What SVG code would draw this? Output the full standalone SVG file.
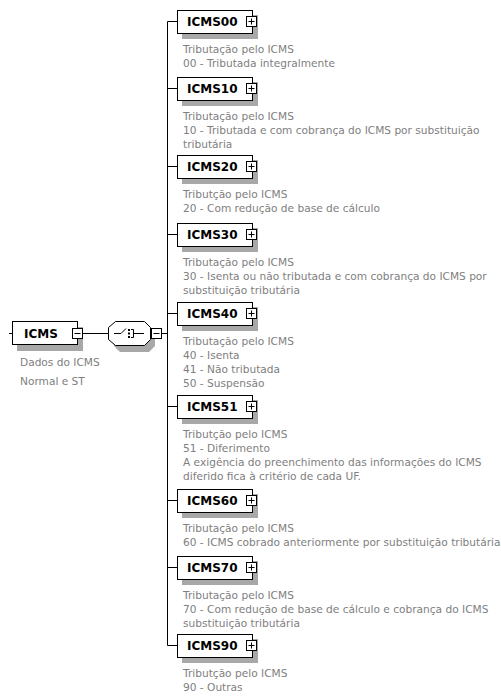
<svg xmlns="http://www.w3.org/2000/svg" width="501" height="699" viewBox="0 0 501 699">
<style>
.bg{fill:#ffffff}
.box{fill:#ffffff;stroke:#000000;stroke-width:1}
.sh{fill:#a8a8a8}
.lbl{font-family:"DejaVu Sans",Verdana,sans-serif;font-weight:bold;font-size:12px;fill:#000000}
.desc{font-family:"DejaVu Sans",Verdana,sans-serif;font-size:10.6px;fill:#808080}
.ln{stroke:#000000;stroke-width:1;fill:none}
.pm{fill:#ffffff;stroke:#000000;stroke-width:1}
</style>
<defs>
<g id="plus"><rect class="pm" x="0.5" y="0.5" width="10" height="10"/><path class="ln" d="M2.5 5.5H8.5M5.5 2.5V8.5"/></g>
<g id="node"><rect class="sh" x="182" y="5" width="76" height="24"/><rect class="box" x="177.5" y="0.5" width="75" height="23"/><use href="#plus" x="246" y="6"/></g>
</defs>
<rect class="bg" x="0" y="0" width="501" height="699"/>
<g id="connectors">
<path class="ln" d="M9 333.5H12.5"/>
<path class="ln" d="M83 333.5H108.5"/>
<path class="ln" d="M161.5 333.5H167.5"/>
<path class="ln" d="M167.5 21.5V645.5"/>
<path class="ln" d="M167.5 21.5H177.5M167.5 88.5H177.5M167.5 166.5H177.5M167.5 234.5H177.5M167.5 313.5H177.5M167.5 406.5H177.5M167.5 500.5H177.5M167.5 567.5H177.5M167.5 645.5H177.5"/>
</g>
<g id="ICMS">
<rect class="sh" x="17" y="327" width="66" height="24"/>
<rect class="box" x="12.5" y="321.5" width="65" height="23"/>
<text class="lbl" x="24" y="338">ICMS</text>
<rect class="pm" x="72.5" y="328.5" width="10" height="10"/>
<path class="ln" d="M74.5 333.5H80.5"/>
<text class="desc" x="20" y="366">Dados do ICMS</text>
<text class="desc" x="20" y="385">Normal e ST</text>
</g>
<g id="choice">
<path class="sh" d="M120 326H149L155 332V346L149 352H120L114 346V332Z"/>
<path class="box" d="M115.5 321.5H144.5L150.5 327.5V339.5L144.5 345.5H115.5L108.5 339.5V327.5Z"/>
<path class="ln" d="M114 333.5H121L126 328.5"/>
<rect x="128" y="329" width="2" height="2" fill="#000"/>
<rect x="128" y="332.5" width="2" height="2" fill="#000"/>
<rect x="128" y="336" width="2" height="2" fill="#000"/>
<path class="ln" d="M131 329.5H133.5V337.5H131M133.5 333.5H144"/>
<rect class="pm" x="151.5" y="328.5" width="10" height="10"/>
<path class="ln" d="M153.5 333.5H159.5"/>
</g>
<g id="ICMS00">
<use href="#node" y="10"/>
<text class="lbl" x="187" y="26">ICMS00</text>
<text class="desc" x="183" y="53">Tributação pelo ICMS</text>
<text class="desc" x="183" y="67">00 - Tributada integralmente</text>
</g>
<g id="ICMS10">
<use href="#node" y="77"/>
<text class="lbl" x="187" y="93">ICMS10</text>
<text class="desc" x="183" y="120">Tributação pelo ICMS</text>
<text class="desc" x="183" y="134">10 - Tributada e com cobrança do ICMS por substituição</text>
<text class="desc" x="183" y="148">tributária</text>
</g>
<g id="ICMS20">
<use href="#node" y="155"/>
<text class="lbl" x="187" y="171">ICMS20</text>
<text class="desc" x="183" y="198">Tributção pelo ICMS</text>
<text class="desc" x="183" y="212">20 - Com redução de base de cálculo</text>
</g>
<g id="ICMS30">
<use href="#node" y="223"/>
<text class="lbl" x="187" y="239">ICMS30</text>
<text class="desc" x="183" y="266">Tributação pelo ICMS</text>
<text class="desc" x="183" y="280">30 - Isenta ou não tributada e com cobrança do ICMS por</text>
<text class="desc" x="183" y="294">substituição tributária</text>
</g>
<g id="ICMS40">
<use href="#node" y="302"/>
<text class="lbl" x="187" y="318">ICMS40</text>
<text class="desc" x="183" y="345">Tributação pelo ICMS</text>
<text class="desc" x="183" y="359">40 - Isenta</text>
<text class="desc" x="183" y="373">41 - Não tributada</text>
<text class="desc" x="183" y="387">50 - Suspensão</text>
</g>
<g id="ICMS51">
<use href="#node" y="395"/>
<text class="lbl" x="187" y="411">ICMS51</text>
<text class="desc" x="183" y="438">Tributção pelo ICMS</text>
<text class="desc" x="183" y="452">51 - Diferimento</text>
<text class="desc" x="183" y="466">A exigência do preenchimento das informações do ICMS</text>
<text class="desc" x="183" y="480">diferido fica à critério de cada UF.</text>
</g>
<g id="ICMS60">
<use href="#node" y="489"/>
<text class="lbl" x="187" y="505">ICMS60</text>
<text class="desc" x="183" y="532">Tributação pelo ICMS</text>
<text class="desc" x="183" y="546">60 - ICMS cobrado anteriormente por substituição tributária</text>
</g>
<g id="ICMS70">
<use href="#node" y="556"/>
<text class="lbl" x="187" y="572">ICMS70</text>
<text class="desc" x="183" y="599">Tributação pelo ICMS</text>
<text class="desc" x="183" y="613">70 - Com redução de base de cálculo e cobrança do ICMS</text>
<text class="desc" x="183" y="627">substituição tributária</text>
</g>
<g id="ICMS90">
<use href="#node" y="634"/>
<text class="lbl" x="187" y="650">ICMS90</text>
<text class="desc" x="183" y="677">Tributção pelo ICMS</text>
<text class="desc" x="183" y="691">90 - Outras</text>
</g>
</svg>
